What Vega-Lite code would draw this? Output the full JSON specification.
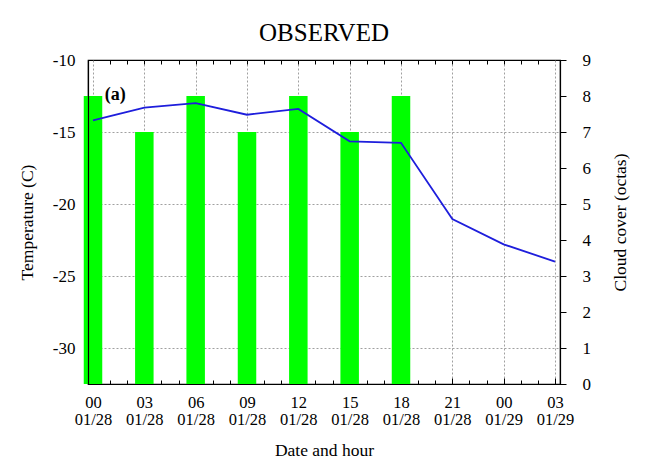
{
  "$schema": "https://vega.github.io/schema/vega-lite/v6.json",
  "width": 472,
  "height": 324,
  "autosize": {"type": "none"},
  "padding": {"left": 88, "top": 60, "right": 89, "bottom": 92},
  "background": "white",
  "title": {"text": "OBSERVED", "font": "Liberation Serif", "fontSize": 25, "fontWeight": "normal", "color": "black", "offset": 5},
  "config": {
    "view": {"stroke": "black", "strokeWidth": 1.2},
    "axis": {
      "labelFont": "Liberation Serif", "labelFontSize": 17, "labelColor": "black",
      "titleFont": "Liberation Serif", "titleFontSize": 17.5, "titleFontWeight": "normal", "titleColor": "black",
      "tickColor": "black", "domainColor": "black", "domainWidth": 1.2, "tickWidth": 1,
      "gridColor": "#888888", "gridDash": [2, 2], "gridWidth": 0.8, "gridOpacity": 1
    }
  },
  "datasets": {
    "obs": [
      {"hour": 0, "cloud": 8, "temp": -14.2},
      {"hour": 3, "cloud": 7, "temp": -13.3},
      {"hour": 6, "cloud": 8, "temp": -13.0},
      {"hour": 9, "cloud": 7, "temp": -13.8},
      {"hour": 12, "cloud": 8, "temp": -13.4},
      {"hour": 15, "cloud": 7, "temp": -15.65},
      {"hour": 18, "cloud": 8, "temp": -15.75},
      {"hour": 21, "cloud": null, "temp": -21.05},
      {"hour": 24, "cloud": null, "temp": -22.8},
      {"hour": 27, "cloud": null, "temp": -24.0}
    ],
    "lab": [
      {"hour": 1.3, "temp": -12.4, "label": "(a)"}
    ]
  },
  "layer": [
    {
      "data": {"name": "lab"},
      "mark": {"type": "text", "font": "Liberation Serif", "fontSize": 18, "fontWeight": "bold", "color": "black", "align": "center", "baseline": "middle"},
      "encoding": {
        "x": {"field": "hour", "type": "quantitative", "scale": {"domain": [0, 27], "nice": false, "zero": false},
          "axis": {"orient": "bottom", "values": [1, 2, 4, 5, 7, 8, 10, 11, 13, 14, 16, 17, 19, 20, 22, 23, 25, 26], "labels": false, "domain": false, "grid": false, "tickSize": -4, "title": null}},
        "y": {"field": "temp", "type": "quantitative", "scale": {"domain": [-32.5, -10], "nice": false, "zero": false},
          "axis": {"orient": "left", "values": [-30, -25, -20, -15], "labels": false, "ticks": false, "domain": false, "grid": true, "title": null}},
        "text": {"field": "label"}
      }
    },
    {
      "data": {"name": "obs"},
      "transform": [{"filter": "isValid(datum.cloud)"}],
      "mark": {"type": "bar", "color": "#00ff00", "size": 18.5},
      "encoding": {
        "x": {"field": "hour", "type": "quantitative",
          "axis": {"orient": "bottom", "values": [0, 3, 6, 9, 12, 15, 18, 21, 24, 27], "grid": true, "tickSize": -6, "labelPadding": 16, "labelFontSize": 16.5, "labelLineHeight": 17,
            "labelExpr": "[(datum.value % 24 < 10 ? '0' : '') + (datum.value % 24), datum.value < 24 ? '01/28' : '01/29']",
            "labelFlush": false, "labelOverlap": false, "title": "Date and hour", "titlePadding": 14}},
        "y": {"field": "cloud", "type": "quantitative", "scale": {"domain": [0, 9], "nice": false},
          "axis": {"orient": "right", "values": [0, 1, 2, 3, 4, 5, 6, 7, 8, 9], "grid": false, "tickSize": 6, "labelPadding": 16, "title": "Cloud cover (octas)", "titleAngle": 270, "titleBaseline": "bottom", "titlePadding": 39}}
      }
    },
    {
      "data": {"name": "obs"},
      "mark": {"type": "line", "color": "#1e1edc", "strokeWidth": 1.8},
      "encoding": {
        "x": {"field": "hour", "type": "quantitative",
          "axis": {"orient": "top", "values": [1, 2, 3, 4, 5, 6, 7, 8, 9, 10, 11, 12, 13, 14, 15, 16, 17, 18, 19, 20, 21, 22, 23, 24, 25, 26], "labels": false, "grid": false, "tickSize": -4, "title": null, "domain": false}},
        "y": {"field": "temp", "type": "quantitative", "scale": {"domain": [-32.5, -10], "nice": false, "zero": false},
          "axis": {"orient": "left", "values": [-30, -25, -20, -15, -10], "labelExpr": "'' + datum.value", "grid": false, "ticks": false, "labelPadding": 13, "domain": true, "zindex": 1, "title": "Temperature (C)", "titlePadding": 16}}
      }
    }
  ],
  "resolve": {"scale": {"y": "independent"}, "axis": {"x": "independent", "y": "independent"}}
}
